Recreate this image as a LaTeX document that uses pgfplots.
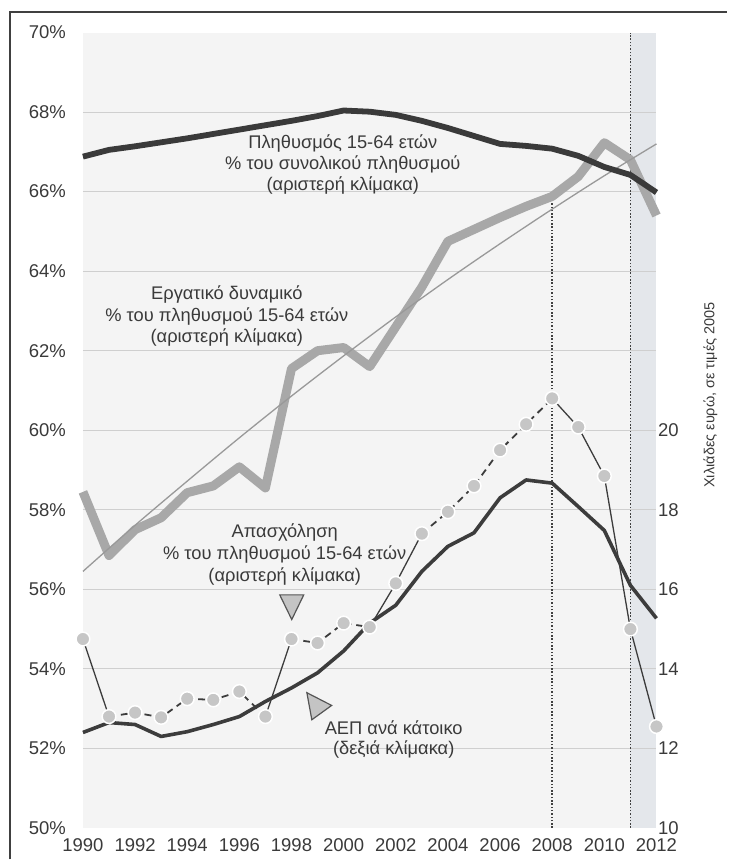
\documentclass[border=0pt]{standalone}
\usepackage{pgfplots}
\pgfplotsset{compat=1.18}
\usepackage{fontspec}
\setmainfont{Liberation Sans}
\definecolor{bgA}{HTML}{F4F4F4}
\definecolor{bgB}{HTML}{E4E7EB}
\definecolor{gridc}{HTML}{CFCFCF}
\definecolor{popc}{HTML}{3A3A3A}
\definecolor{labc}{HTML}{A8A8A8}
\definecolor{trendc}{HTML}{999999}
\definecolor{gdpc}{HTML}{3C3C3C}
\definecolor{empc}{HTML}{C6C6C6}
\definecolor{txtc}{HTML}{3A3A3A}
\definecolor{trif}{HTML}{C4C4C4}
\definecolor{trid}{HTML}{555555}

\pgfplotstableread{
year pop
1990 66.88
1991 67.05
1992 67.14
1993 67.24
1994 67.34
1995 67.45
1996 67.56
1997 67.67
1998 67.78
1999 67.90
2000 68.04
2001 68.01
2002 67.93
2003 67.78
2004 67.60
2005 67.40
2006 67.20
2007 67.15
2008 67.08
2009 66.90
2010 66.62
2011 66.42
2012 65.98
}\poptab

\pgfplotstableread{
year lab
1990 58.45
1991 56.85
1992 57.50
1993 57.80
1994 58.43
1995 58.60
1996 59.08
1997 58.55
1998 61.55
1999 62.00
2000 62.08
2001 61.60
2002 62.60
2003 63.60
2004 64.75
2005 65.05
2006 65.35
2007 65.63
2008 65.88
2009 66.38
2010 67.23
2011 66.80
2012 65.40
}\labtab

\pgfplotstableread{
year trend
1990 56.45
1992 57.61
1994 58.72
1996 59.81
1998 60.86
2000 61.87
2002 62.85
2004 63.79
2006 64.69
2008 65.56
2010 66.40
2012 67.20
}\trendtab

\pgfplotstableread{
year gdp
1990 12.40
1991 12.65
1992 12.60
1993 12.30
1994 12.42
1995 12.60
1996 12.80
1997 13.18
1998 13.52
1999 13.90
2000 14.45
2001 15.15
2002 15.60
2003 16.45
2004 17.08
2005 17.42
2006 18.30
2007 18.75
2008 18.67
2009 18.08
2010 17.48
2011 16.10
2012 15.27
}\gdptab

\pgfplotstableread{
year emp
1990 54.75
1991 52.80
1992 52.90
1993 52.78
1994 53.25
1995 53.22
1996 53.43
1997 52.80
1998 54.75
1999 54.65
2000 55.15
2001 55.05
2002 56.15
2003 57.40
2004 57.95
2005 58.60
2006 59.50
2007 60.15
2008 60.80
2009 60.08
2010 58.85
2011 55.00
2012 52.55
}\emptab

\pgfplotstableread{
year emp
1991 52.80
1992 52.90
1993 52.78
1994 53.25
1995 53.22
1996 53.43
1997 52.80
1997.5 nan
1998 54.75
1999 54.65
2000 55.15
2001 55.05
2002.5 nan
2003 57.40
2004 57.95
2005 58.60
2006 59.50
2007 60.15
2008 60.80
}\empdashed

\pgfplotstableread{
year emp
1990 54.75
1991 52.80
1991.5 nan
1997 52.80
1998 54.75
1998.5 nan
2001 55.05
2002 56.15
2003 57.40
2003.5 nan
2008 60.80
2009 60.08
2010 58.85
2011 55.00
2012 52.55
}\empsolid

\pgfplotsset{
  base/.style={
    scale only axis, width=574pt, height=796pt,
    at={(83pt,31.4pt)}, anchor=south west,
    xmin=1990, xmax=2012, clip=false,
    axis line style={draw=none}, major tick length=0pt,
    tick label style={font=\fontsize{18.5}{21}\selectfont, text=txtc},
    /pgf/number format/assume math mode=true,
    /pgf/number format/1000 sep={},
  }
}

\begin{document}
\begin{tikzpicture}[x=1pt,y=1pt]
\path (0,0) rectangle (728,860);
\draw[line width=1.4pt, color=black!75] (10,0) -- (10,848) -- (728,848);

% ---------- left scale: background, grid, population, labour force
\begin{axis}[base,
  ymin=50, ymax=70, ytick={50,52,...,70},
  yticklabel={\pgfmathprintnumber{\tick}\%},
  yticklabel style={xshift=-13.5pt},
  xtick={1990,1992,...,2012},
  xticklabel style={yshift=-7pt},
]
\fill[bgA] (axis cs:1990,50) rectangle (axis cs:2012,70);
\fill[bgB] (axis cs:2011,50) rectangle (axis cs:2012,70);
\pgfplotsinvokeforeach{52,54,56,58,60,62,64,66,68}{
  \draw[gridc, line width=1pt] (axis cs:1990,#1) -- (axis cs:2012,#1);
}
\draw[black!75, line width=1.5pt, dash pattern=on 1.5pt off 1.8pt] (axis cs:2008,50) -- (axis cs:2008,65.8);
\draw[black!75, line width=1.5pt, dash pattern=on 1.5pt off 1.8pt] (axis cs:2011,50) -- (axis cs:2011,70);
\addplot[labc, line width=9pt, line join=round] table[x=year,y=lab] {\labtab};
\addplot[trendc, line width=1.3pt, smooth] table[x=year,y=trend] {\trendtab};
\addplot[popc, line width=5.8pt, line join=round] table[x=year,y=pop] {\poptab};
\end{axis}

% ---------- right scale: GDP per capita
\begin{axis}[base,
  ymin=10, ymax=30, ytick={10,12,...,20},
  axis y line*=right, hide x axis,
  yticklabel style={xshift=-2pt},
]
\addplot[gdpc, line width=3.6pt, line join=round] table[x=year,y=gdp] {\gdptab};
\end{axis}

% ---------- left scale again: employment and annotations
\begin{axis}[base, ymin=50, ymax=70, hide axis, unbounded coords=jump]
\addplot[gdpc, line width=1.3pt] table[x=year,y=emp] {\empsolid};
\addplot[gdpc, line width=1.8pt, dash pattern=on 7pt off 5pt] table[x=year,y=emp] {\empdashed};
\addplot[only marks, mark=*, mark size=6.9pt,
  mark options={fill=empc, draw=white, line width=1.5pt}] table[x=year,y=emp] {\emptab};

\node[align=center, text=txtc, font=\fontsize{18.3}{21}\selectfont]
  at (axis cs:1999.97,66.67) {Πληθυσμός 15-64 ετών\\\% του συνολικού πληθυσμού\\(αριστερή κλίμακα)};
\node[align=center, text=txtc, font=\fontsize{18.3}{21.5}\selectfont]
  at (axis cs:1995.52,62.87) {Εργατικό δυναμικό\\\% του πληθυσμού 15-64 ετών\\(αριστερή κλίμακα)};
\node[align=center, text=txtc, font=\fontsize{18.3}{22}\selectfont]
  at (axis cs:1997.74,56.87) {Απασχόληση\\\% του πληθυσμού 15-64 ετών\\(αριστερή κλίμακα)};
\node[align=center, text=txtc, font=\fontsize{18.3}{20}\selectfont]
  at (axis cs:2001.92,52.22) {ΑΕΠ ανά κάτοικο\\(δεξιά κλίμακα)};

\filldraw[fill=trif, draw=trid, line width=1.2pt, line join=miter]
  (axis cs:1997.55,55.86) -- (axis cs:1998.47,55.86) -- (axis cs:1998.01,55.24) -- cycle;
\filldraw[fill=trif, draw=trid, line width=1.2pt, line join=miter]
  (axis cs:1998.59,53.40) -- (axis cs:1999.54,53.08) -- (axis cs:1998.78,52.72) -- cycle;

\node[rotate=90, text=txtc, font=\fontsize{14.5}{17}\selectfont]
  at ([xshift=54pt]axis cs:2012,60.89) {Χιλιάδες ευρώ, σε τιμές 2005};
\end{axis}
\end{tikzpicture}
\end{document}
